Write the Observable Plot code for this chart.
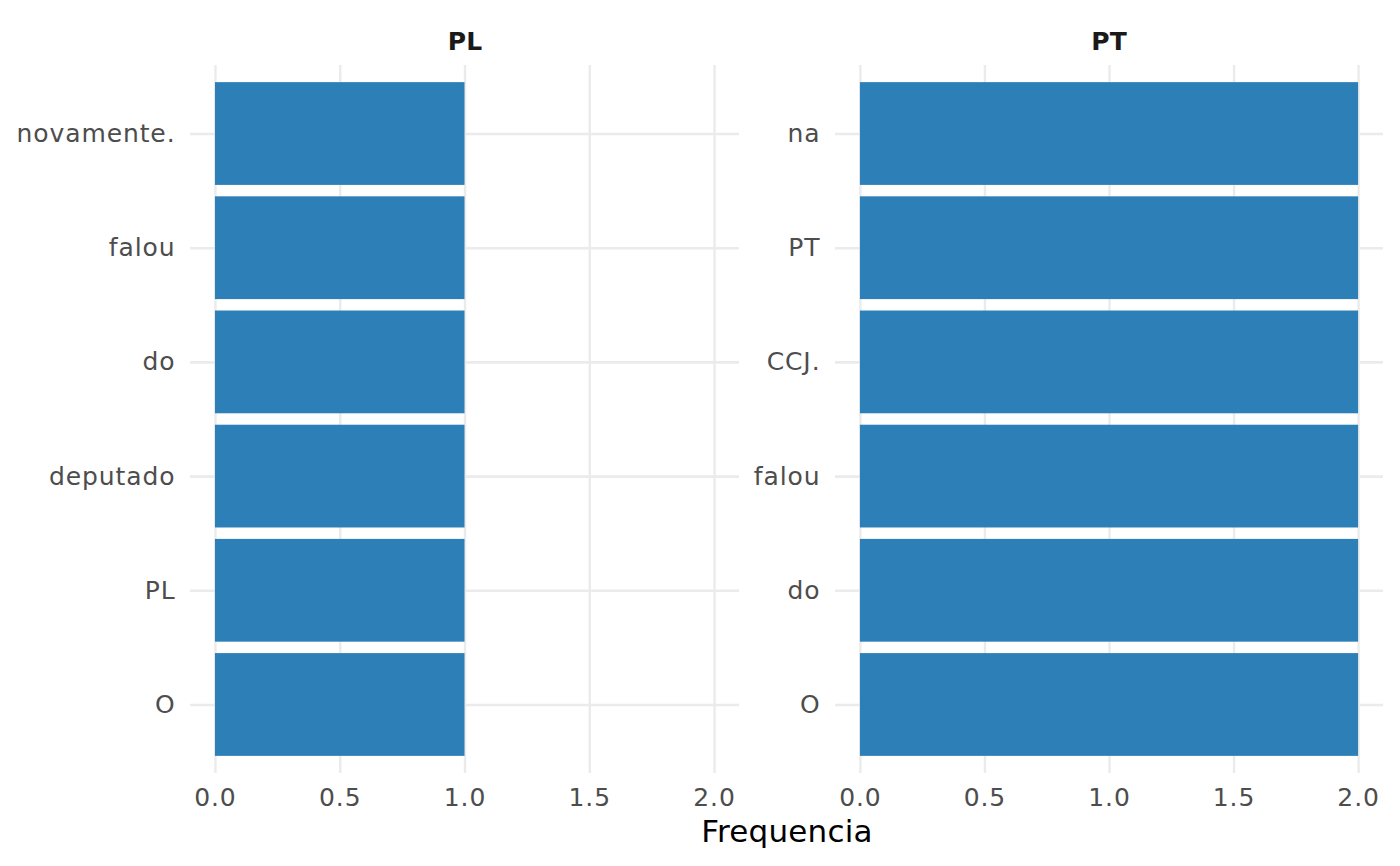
<!DOCTYPE html>
<html>
<head>
<meta charset="utf-8">
<script src="https://cdn.jsdelivr.net/npm/d3@7"></script>
<script src="https://cdn.jsdelivr.net/npm/@observablehq/plot@0.6"></script>
<style>
  html, body { margin: 0; padding: 0; background: #fff; }
  #wrap { position: relative; width: 1400px; height: 866px; font-family: "DejaVu Sans", sans-serif; overflow: hidden; }
  .panel { position: absolute; top: 0; }
  .strip { position: absolute; top: 27px; font-weight: bold; font-size: 25px; line-height: 30px; color: #1a1a1a; transform: translateX(-50%); white-space: nowrap; }
  #xtitle { position: absolute; top: 813px; left: 787px; transform: translateX(-50%); font-size: 31px; line-height: 36px; color: #000; white-space: nowrap; letter-spacing: 0.2px; }
  svg text { letter-spacing: 0.9px; }
</style>
</head>
<body>
<div id="wrap">
  <div class="panel" id="p1" style="left:0px"></div>
  <div class="panel" id="p2" style="left:740px"></div>
  <div class="strip" style="left:465px">PL</div>
  <div class="strip" style="left:1109px">PT</div>
  <div id="xtitle">Frequencia</div>
</div>
<script>
const facets = ["PL", "PT"];
const plWords = ["O", "PL", "deputado", "do", "falou", "novamente."];
const plFreq = [1, 1, 1, 1, 1, 1];
const ptWords = ["O", "do", "falou", "CCJ.", "PT", "na"];
const ptFreq = [2, 2, 2, 2, 2, 2];
const xTicks = [0, 0.5, 1, 1.5, 2];

const barColor = "#2d7fb8";
const gridColor = "#ebebeb";

function panel(words, freqs, width, marginLeft, marginRight) {
  const data = words.map((w, i) => ({word: w, freq: freqs[i]}));
  return Plot.plot({
    width, height: 866,
    marginLeft, marginRight, marginTop: 65, marginBottom: 93,
    style: {fontFamily: "DejaVu Sans, sans-serif", fontSize: "25px", color: "#4d4d4d", background: "transparent", overflow: "visible"},
    x: {domain: [-0.1, 2.1]},
    y: {type: "band", domain: words.slice().reverse(), paddingInner: 0.1, paddingOuter: 0.15, round: false},
    marks: [
      Plot.gridX({ticks: xTicks, stroke: gridColor, strokeOpacity: 1, strokeWidth: 2.4}),
      Plot.gridY({stroke: gridColor, strokeOpacity: 1, strokeWidth: 2.6}),
      Plot.barX(data, {x: "freq", y: "word", fill: barColor}),
      Plot.axisX({ticks: xTicks, tickFormat: d3.format(".1f"), tickSize: 0, tickPadding: 15, label: null, fontSize: 25}),
      Plot.axisY({tickSize: 0, tickPadding: 15, label: null, fontSize: 25})
    ]
  });
}

document.getElementById("p1").appendChild(panel(plWords, plFreq, 740, 190, 1));
document.getElementById("p2").appendChild(panel(ptWords, ptFreq, 660, 95, 17));
</script>
</body>
</html>
